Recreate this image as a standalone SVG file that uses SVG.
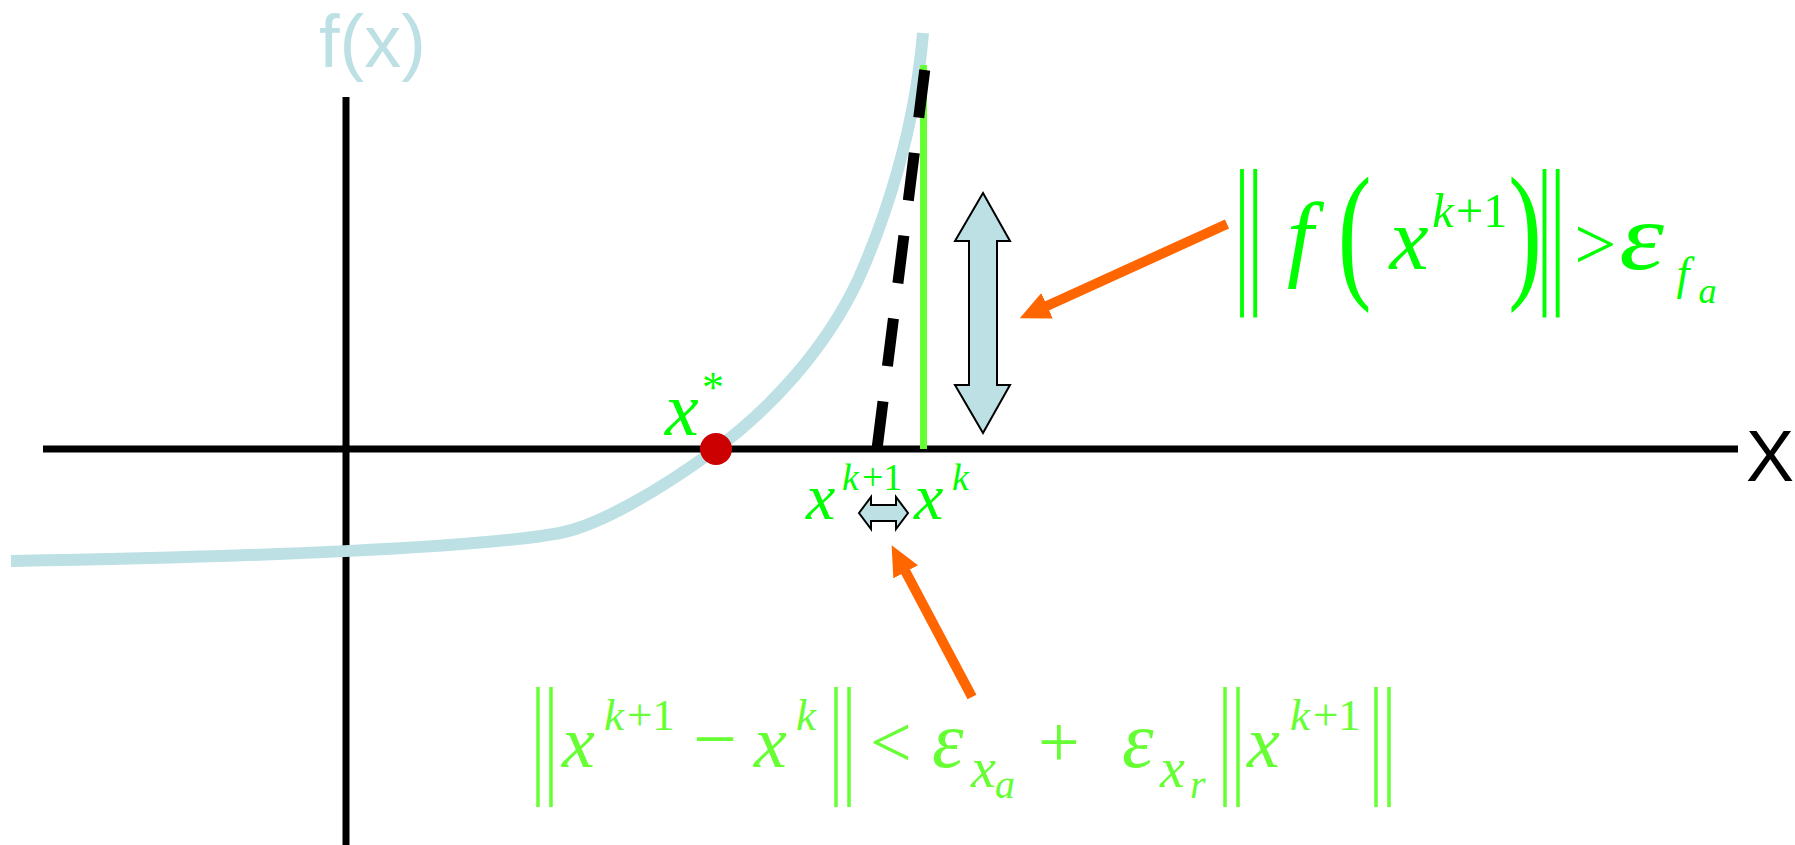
<svg xmlns="http://www.w3.org/2000/svg" width="1795" height="845" viewBox="0 0 1795 845">
<style>
.ax{stroke:#000;stroke-width:7;fill:none}
.m{font-family:"Liberation Serif","Times New Roman",serif;font-style:italic}
.r{font-family:"Liberation Serif","Times New Roman",serif;font-style:normal}
.g1{fill:#00FF00}
.g2{fill:#66FF33}
.bar1{stroke:#00FF00;stroke-width:3.5}
.bar2{stroke:#66FF33;stroke-width:3.5}
.lab{font-family:"Liberation Sans",Arial,sans-serif}
.oa{stroke:#FF6600;stroke-width:10;fill:none;marker-end:url(#oh)}
.dbl{fill:#BCE0E4;stroke:#000;stroke-width:2;stroke-linejoin:miter}
</style>
<defs>
<marker id="oh" markerUnits="userSpaceOnUse" markerWidth="30" markerHeight="28" refX="10" refY="14" orient="auto">
<path d="M0,0 L30,14 L0,28 z" fill="#FF6600"/>
</marker>
</defs>
<g id="axes">
<line class="ax" x1="43" y1="449" x2="1738" y2="449"/>
<line class="ax" x1="346" y1="97" x2="346" y2="845"/>
<text class="lab" x="1746" y="481" font-size="72" fill="#000">X</text>
<text class="lab" x="319" y="67" font-size="74" fill="#BCE0E4">f(x)</text>
</g>
<g id="curve">
<path d="M11 561 C250 557 480 548 560 533 C600 525 660 490 716 449 C770 409 825 350 858 280 C885 220 915 130 923 33" fill="none" stroke="#BCE0E4" stroke-width="12"/>
</g>
<g id="xk-line">
<line x1="923.5" y1="65" x2="923.5" y2="449" stroke="#66FF33" stroke-width="7"/>
</g>
<g id="tangent">
<line x1="877" y1="449" x2="925" y2="68" stroke="#000" stroke-width="11" stroke-dasharray="48 35.5"/>
</g>
<g id="root">
<circle cx="716" cy="449" r="16" fill="#CC0000"/>
<text class="m g1" x="665" y="435" font-size="76">x</text>
<text class="r g1" x="702" y="402" font-size="44">*</text>
</g>
<g id="big-arrow">
<polygon class="dbl" points="983,193 1010,241 997,241 997,385 1010,385 983,433 955,385 969,385 969,241 955,241"/>
</g>
<g id="small-arrow">
<polygon class="dbl" stroke-width="1.5" points="859,513 871,497 871,505 896,505 896,497 908,513 896,529 896,521 871,521 871,529"/>
</g>
<g id="xk-labels">
<text class="m g1" x="806" y="519" font-size="66">x</text>
<text class="g1" x="842" y="490" font-size="38"><tspan class="m">k</tspan><tspan class="r" dx="3">+1</tspan></text>
<text class="m g1" x="914" y="519" font-size="66">x</text>
<text class="m g1" x="952" y="490" font-size="38">k</text>
</g>
<g id="connectors">
<line class="oa" x1="1227" y1="224" x2="1038" y2="310"/>
<line class="oa" stroke-width="9" x1="972" y1="697" x2="901" y2="563"/>
</g>
<g id="f-criterion" transform="translate(1242,169) scale(1.1) translate(-1277,-163)">
<line class="bar1" x1="1277" y1="163" x2="1277" y2="298"/>
<line class="bar1" x1="1289" y1="163" x2="1289" y2="298"/>
<text class="m g1" x="1318" y="254" font-size="86">f</text>
<text class="r g1" font-size="80" transform="translate(1364,230) scale(1.15,1.72)" y="20">(</text>
<text class="m g1" x="1411" y="254" font-size="80">x</text>
<text class="g1" x="1450" y="216" font-size="44"><tspan class="m">k</tspan><tspan class="r" dx="2">+1</tspan></text>
<text class="r g1" font-size="80" transform="translate(1519,230) scale(1.15,1.72)" y="20">)</text>
<line class="bar1" x1="1552" y1="163" x2="1552" y2="298"/>
<line class="bar1" x1="1564" y1="163" x2="1564" y2="298"/>
<text class="r g1" x="1579" y="254" font-size="68">&gt;</text>
<text class="m g1" transform="translate(1620,254) scale(1.2,1)" font-size="86">ε</text>
<text class="m g1" x="1672" y="272" font-size="42">f</text>
<text class="m g1" x="1692" y="285" font-size="33">a</text>
</g>
<g id="x-criterion">
<line class="bar2" x1="538" y1="687" x2="538" y2="807"/>
<line class="bar2" x1="551" y1="687" x2="551" y2="807"/>
<text class="m g2" x="562" y="767" font-size="74">x</text>
<text class="g2" x="604" y="730" font-size="45"><tspan class="m">k</tspan><tspan class="r" dx="3">+1</tspan></text>
<text class="r g2" x="693" y="765" font-size="78">−</text>
<text class="m g2" x="754" y="767" font-size="74">x</text>
<text class="m g2" x="796" y="730" font-size="45">k</text>
<line class="bar2" x1="836" y1="687" x2="836" y2="807"/>
<line class="bar2" x1="849" y1="687" x2="849" y2="807"/>
<text class="r g2" x="870" y="767" font-size="74">&lt;</text>
<text class="m g2" x="932" y="767" font-size="80">ε</text>
<text class="m g2" x="971" y="787" font-size="56">x</text>
<text class="m g2" x="995" y="798" font-size="40">a</text>
<text class="r g2" x="1038" y="767" font-size="74">+</text>
<text class="m g2" x="1122" y="767" font-size="80">ε</text>
<text class="m g2" x="1160" y="787" font-size="56">x</text>
<text class="m g2" x="1190" y="798" font-size="40">r</text>
<line class="bar2" x1="1225" y1="687" x2="1225" y2="807"/>
<line class="bar2" x1="1238" y1="687" x2="1238" y2="807"/>
<text class="m g2" x="1247" y="767" font-size="74">x</text>
<text class="g2" x="1290" y="730" font-size="45"><tspan class="m">k</tspan><tspan class="r" dx="3">+1</tspan></text>
<line class="bar2" x1="1376" y1="687" x2="1376" y2="807"/>
<line class="bar2" x1="1389" y1="687" x2="1389" y2="807"/>
</g>
</svg>
